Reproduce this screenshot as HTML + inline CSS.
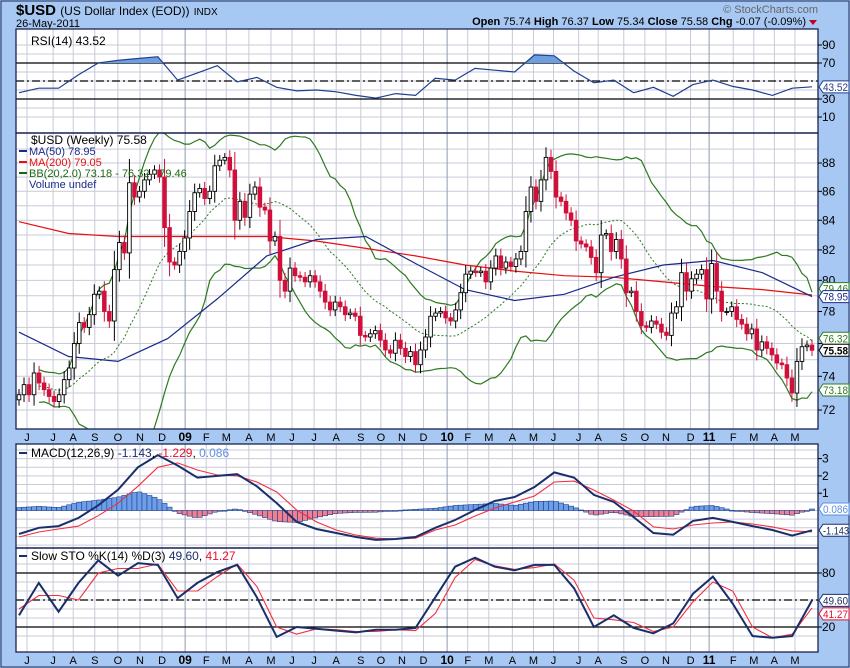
<!DOCTYPE html>
<html><head><meta charset="utf-8"><style>
html,body{margin:0;padding:0;background:#a7c8f2;}
svg{display:block;font-family:"Liberation Sans",sans-serif;}
</style></head><body>
<svg id="chart" width="850" height="668" viewBox="0 0 850 668" xmlns="http://www.w3.org/2000/svg">
<rect x="0" y="0" width="850" height="668" fill="#a7c8f2"/>
<rect x="1" y="1" width="848" height="666" fill="none" stroke="#1a2a5a" stroke-width="1"/>
<text x="16" y="15" font-size="15" font-weight="bold" fill="#000">$USD <tspan font-size="12" font-weight="normal">(US Dollar Index (EOD))</tspan> <tspan font-size="10" font-weight="normal">INDX</tspan></text>
<text x="16" y="27" font-size="11" fill="#000">26-May-2011</text>
<text x="818" y="13" font-size="11" fill="#666" text-anchor="end">© StockCharts.com</text>
<text x="806" y="25" font-size="11" fill="#000" text-anchor="end"><tspan font-weight="bold">Open</tspan> 75.74 <tspan font-weight="bold">High</tspan> 76.37 <tspan font-weight="bold">Low</tspan> 75.34 <tspan font-weight="bold">Close</tspan> 75.58 <tspan font-weight="bold">Chg</tspan> -0.07 (-0.09%)</text>
<polygon points="809,20 817,20 813,25" fill="#c00020"/>
<g id="layer"></g>
</svg>
<script>
// ---- data ----
const closes = [72.9,73.5,72.9,74.2,73.6,73.2,72.8,72.5,72.9,73.8,74.5,76.0,77.3,77.0,77.8,79.1,79.3,78.0,77.4,80.7,82.5,81.8,86.6,85.6,86.0,86.8,87.2,87.5,87.0,83.5,
81.2,81.0,81.9,82.8,84.6,85.9,86.2,85.5,86.0,87.8,88.2,
88.4,87.5,84.0,85.3,84.2,85.8,86.3,84.9,84.7,82.6,82.9,80.0,79.3,80.8,80.3,80.2,79.9,80.3,79.9,79.3,78.6,78.1,78.6,78.3,77.8,77.9,77.7,76.5,76.4,76.6,76.8,76.2,75.6,75.4,76.2,75.7,75.2,75.5,74.7,75.6,76.4,
77.7,77.9,78.0,77.6,77.4,78.1,79.2,80.4,80.6,80.5,80.6,79.9,80.8,81.6,80.8,81.2,80.9,81.4,81.9,84.6,86.3,85.3,86.8,88.4,87.4,85.6,85.3,84.5,84.0,82.6,82.4,82.2,81.5,80.5,83.0,83.1,81.9,82.7,81.4,79.2,
79.3,78.0,77.1,77.0,77.4,77.2,76.7,76.5,77.9,78.3,80.5,79.3,80.1,80.4,80.7,78.8,81.1,79.3,78.0,78.0,78.3,77.5,77.2,76.6,76.9,75.6,76.1,75.7,75.3,74.8,74.7,73.9,73.0,74.9,75.8,75.9,75.58];
const firstOpen = 72.6;
const ma50 = [76.7,75.2,74.9,76.3,78.8,81.6,82.7,82.9,81.1,79.4,78.7,79.1,80.2,81.0,81.3,80.5,78.95];
const ma200 = [83.9,83.1,82.9,82.9,82.9,82.9,82.6,82.1,81.6,81.0,80.6,80.3,80.2,79.9,79.6,79.4,79.05];
const rsi = [37,42,42,57,70,73,75,77,51,59,67,49,54,43,39,40,38,34,31,36,34,53,51,64,62,60,79,78,61,48,51,37,43,33,46,51,44,40,34,42,43.52];
const macdLine = [-1.36,-1.0,-0.9,-0.43,0.3,1.2,2.5,3.2,2.6,1.9,2.0,2.1,1.4,0.43,-0.66,-1.07,-1.3,-1.53,-1.7,-1.65,-1.53,-1.0,-0.55,0.03,0.55,0.78,1.36,2.2,1.9,0.9,0.5,-0.38,-1.3,-1.4,-0.6,-0.43,-0.66,-0.9,-1.13,-1.45,-1.143];
const signalLine = [-1.53,-1.24,-1.07,-0.9,-0.3,0.43,1.4,2.5,2.75,2.34,2.05,2.0,1.65,1.07,0.03,-0.66,-1.13,-1.42,-1.6,-1.65,-1.6,-1.13,-0.84,-0.32,0.14,0.49,0.84,1.65,1.7,1.18,0.6,-0.03,-0.95,-1.07,-0.84,-0.72,-0.66,-0.78,-0.95,-1.18,-1.229];
const stoK = [33,69,37,69,94,77,91,89,52,69,81,89,53,9,20,18,16,14,17,17,19,53,87,97,87,83,89,89,63,20,33,19,13,24,57,76,46,10,8,10,49.6];
const stoD = [40,55,55,50,80,85,85,90,60,60,76,90,65,20,12,18,17,15,15,17,16,35,75,95,88,84,86,90,72,30,28,25,15,20,48,70,60,20,8,12,41.27];
const months = ["J","J","A","S","O","N","D","09","F","M","A","M","J","J","A","S","O","N","D","10","F","M","A","M","J","J","A","S","O","N","D","11","F","M","A","M"];
const monthWeeks = [1.6,6.8,10.8,15.1,19.7,24.1,28.5,33.1,37.3,41.3,45.8,50.2,54.4,58.8,63.2,68.1,72.1,76.3,80.6,85.3,89.4,93.6,98.3,102.5,106.5,111.5,115.4,120.5,124.7,128.9,133.8,137.5,142.3,146.4,150.5,154.6];
const priceTicks = [72,74,76,78,80,82,84,86,88];
const rsiTicks = [90,70,30,10];
const macdTicks = [3,2,1];
const stoTicks = [80,20];

// ---- geometry ----
const L=16,R=818;
const N=closes.length;
const X0=19,X1=812;
const xW=i=>X0+i*(X1-X0)/(N-1);
const xS=(k,n)=>X0+k*(X1-X0)/(n-1);
const yP=p=>163+Math.log(88/p)*1231;
const yR=v=>126-0.9*v;
const yM=v=>510.5-17.3*v;
const yS=v=>645-0.9*v;
const NS="http://www.w3.org/2000/svg";
const layer=document.getElementById('layer');
function mk(tag,a,parent){const e=document.createElementNS(NS,tag);for(const k in a)e.setAttribute(k,a[k]);(parent||layer).appendChild(e);return e;}
function txt(x,y,s,a,parent){const e=mk('text',Object.assign({x:x,y:y,'font-size':11},a||{}),parent);e.textContent=s;return e;}
function pts(arr,fx,fy){return arr.map((v,i)=>fx(i).toFixed(1)+','+fy(v).toFixed(1)).join(' ');}

const panels=[{n:'rsi',t:29,b:133},{n:'price',t:133,b:429},{n:'macd',t:444,b:548},{n:'sto',t:548,b:652}];
panels.forEach(p=>{
  const r=mk('rect',{x:L,y:p.t,width:R-L,height:p.b-p.t,fill:'#fff'});
  
  
});
function hgrid(y,panel){const l=mk('line',{x1:L,x2:R,y1:y,y2:y,stroke:'#c9c9d9','stroke-width':1});
  
  }
for(let v=10;v<100;v+=10) hgrid(yR(v),'rsi');
for(let p=72;p<=89;p++) hgrid(yP(p),'price');
for(let v=-2;v<=3.5;v+=0.5) if(yM(v)>446&&yM(v)<547) hgrid(yM(v),'macd');
for(let v=10;v<100;v+=10) hgrid(yS(v),'sto');
monthWeeks.forEach((w,i)=>{
  const x=xW(w);const yr=months[i].length>1;
  panels.forEach(p=>{const l=mk('line',{x1:x,x2:x,y1:p.t,y2:p.b,stroke:yr?'#8e9bb0':'#c9c9d9','stroke-width':1});
    
    });
  [441,664].forEach(y=>{const t=txt(x,y,months[i],{'text-anchor':'middle','font-weight':yr?'bold':'normal','font-size':yr?12:11});
    
    });
});
function refLine(y,dash,name){const l=mk('line',{x1:L,x2:R,y1:y,y2:y,stroke:'#000','stroke-width':1.2,'stroke-dasharray':dash||'none'});
  
  }
refLine(yR(70),null,'rsi-70-line');refLine(yR(30),null,'rsi-30-line');refLine(yR(50),'8,3,2,3','rsi-50-line');
refLine(yS(80),null,'sto-80-line');refLine(yS(20),null,'sto-20-line');refLine(yS(50),'8,3,2,3','sto-50-line');

// ---- RSI ----
const defs=mk('defs',{});
const cp=mk('clipPath',{id:'above70'},defs);
mk('rect',{x:L,y:29,width:R-L,height:yR(70)-29},cp);
const rsiFill=mk('polygon',{points:xS(0,rsi.length)+','+yR(70)+' '+pts(rsi,k=>xS(k,rsi.length),yR)+' '+xS(rsi.length-1,rsi.length)+','+yR(70),fill:'#6d9fe0','clip-path':'url(#above70)'});


const rsiL=mk('polyline',{points:pts(rsi,k=>xS(k,rsi.length),yR),fill:'none',stroke:'#1f3f8f','stroke-width':1.2});



// ---- Bollinger ----
const mid=[],up=[],lo=[];
for(let i=0;i<N;i++){const s=closes.slice(Math.max(0,i-19),i+1);const m=s.reduce((a,b)=>a+b,0)/s.length;
  const sd=Math.sqrt(s.reduce((a,b)=>a+(b-m)*(b-m),0)/s.length);mid.push(m);up.push(m+2*sd);lo.push(m-2*sd);}
const bbStart=4;
function series(arr,start){return arr.slice(start).map((v,i)=>xW(i+start).toFixed(1)+','+yP(v).toFixed(1)).join(' ');}
const cpP=mk('clipPath',{id:'pclip'},defs);
mk('rect',{x:L,y:133,width:R-L,height:296},cpP);
const gP=mk('g',{'clip-path':'url(#pclip)'});


const bbU=mk('polyline',{points:series(up,bbStart),fill:'none',stroke:'#2d7a1f','stroke-width':1.2},gP);


const bbL=mk('polyline',{points:series(lo,bbStart),fill:'none',stroke:'#2d7a1f','stroke-width':1.2},gP);


const bbM=mk('polyline',{points:series(mid,bbStart),fill:'none',stroke:'#2d7a1f','stroke-width':1,'stroke-dasharray':'2,2'},gP);


const m200=mk('polyline',{points:pts(ma200,k=>xS(k,ma200.length),yP),fill:'none',stroke:'#e81010','stroke-width':1.2},gP);


const m50=mk('polyline',{points:pts(ma50,k=>xS(k,ma50.length),yP),fill:'none',stroke:'#1a2a8a','stroke-width':1.2},gP);


for(let i=0;i<N;i++){
  const o=i?closes[i-1]:firstOpen,c=closes[i];
  const x=xW(i);const top=Math.max(o,c),bot=Math.min(o,c);const wick=0.25+Math.abs(c-o)*0.3;
  const w=mk('line',{x1:x,x2:x,y1:yP(top+wick),y2:yP(bot-wick),stroke:c<o?'#d0103a':'#000','stroke-width':1},gP);
  
  
  const h=Math.max(1,yP(bot)-yP(top));
  const b=mk('rect',{x:x-1.8,y:yP(top),width:3.6,height:h,fill:c<o?'#d0103a':'#fff',stroke:c<o?'#d0103a':'#000','stroke-width':0.9},gP);
  
  
}
const leg=[['$USD (Weekly) 75.58','#000',null],['MA(50) 78.95','#1a2a8a','#1a2a8a'],['MA(200) 79.05','#e81010','#e81010'],['BB(20,2.0) 73.18 - 76.32 - 79.46','#1a6a10','#1a6a10'],['Volume undef','#1a2a8a',null]];
leg.forEach((l,i)=>{const y=144+i*11;
  const t=txt(i==0?31:29,y,l[0],{fill:l[1],'font-size':i==0?12:11});
  
  
  if(l[2]){const s=mk('line',{x1:19,x2:27,y1:y-4,y2:y-4,stroke:l[2],'stroke-width':2});
    
    }
});
const rl=txt(31,45,'RSI(14) 43.52',{'font-size':12});



// ---- MACD ----
const nm=macdLine.length;
for(let i=0;i<N;i++){
  const f=i*(nm-1)/(N-1);const k=Math.min(nm-2,Math.floor(f));const t=f-k;
  const h=(macdLine[k]+(macdLine[k+1]-macdLine[k])*t)-(signalLine[k]+(signalLine[k+1]-signalLine[k])*t);
  const y0=yM(0),y1=yM(h);
  const b=mk('rect',{x:xW(i)-2.5,y:Math.min(y0,y1),width:5,height:Math.max(0.8,Math.abs(y1-y0)),fill:h>=0?'#6d9fe8':'#f27f90',stroke:'#1f3f8f','stroke-width':0.6});
  
  
}
const sig=mk('polyline',{points:pts(signalLine,k=>xS(k,nm),yM),fill:'none',stroke:'#f03040','stroke-width':1.1});


const mac=mk('polyline',{points:pts(macdLine,k=>xS(k,nm),yM),fill:'none',stroke:'#1a2f6a','stroke-width':2});


const ml=txt(31,457,'',{'font-size':12});
ml.innerHTML='MACD(12,26,9) <tspan fill="#1a2f6a">-1.143</tspan>, <tspan fill="#e81030">-1.229</tspan>, <tspan fill="#5d8fe0">0.086</tspan>';



// ---- STO ----
const sd=mk('polyline',{points:pts(stoD,k=>xS(k,stoD.length),yS),fill:'none',stroke:'#f03040','stroke-width':1.1});


const sk=mk('polyline',{points:pts(stoK,k=>xS(k,stoK.length),yS),fill:'none',stroke:'#1a2f6a','stroke-width':2});


const sl=txt(31,560,'',{'font-size':12});
sl.innerHTML='Slow STO %K(14) %D(3) <tspan fill="#1a2f6a">49.60</tspan>, <tspan fill="#e81030">41.27</tspan>';


[[457,'#1a2f6a'],[560,'#1a2f6a']].forEach(a=>{const s=mk('line',{x1:19,x2:27,y1:a[0]-4,y2:a[0]-4,stroke:a[1],'stroke-width':2});
  
  });

panels.forEach(p=>{const r=mk('rect',{x:L,y:p.t,width:R-L,height:p.b-p.t,fill:'none',stroke:'#1a2350','stroke-width':1.3});
  
  });

function ytick(y,s,name){const l=mk('line',{x1:R,x2:R+4,y1:y,y2:y,stroke:'#000'});
  
  
  const t=txt(R+4,y+4,s,{'font-size':12});
  
  }
rsiTicks.forEach(v=>ytick(yR(v),String(v),'rsi'));
priceTicks.forEach(v=>ytick(yP(v),String(v),'price'));
macdTicks.forEach(v=>ytick(yM(v),String(v),'macd'));
stoTicks.forEach(v=>ytick(yS(v),String(v),'sto'));
function tag(y,s,col,bold,name){
  const p=mk('polygon',{points:`${R+1},${y} ${R+5},${y-6} ${R+31},${y-6} ${R+31},${y+6} ${R+5},${y+6}`,fill:'#fff',stroke:col,'stroke-width':1});
  
  
  const t=txt(R+5,y+4,s,{fill:bold?'#000':col,'font-weight':bold?'bold':'normal','font-size':11,'textLength':s.length>5?26:25,'lengthAdjust':'spacingAndGlyphs'});
  
  }
tag(yR(43.52),'43.52','#1f3f8f',false,'rsi-value');
tag(yP(79.46),'79.46','#2d7a1f',false,'bb-upper-value');
tag(yP(78.95),'78.95','#1a2a8a',false,'ma50-value');
tag(yP(76.32),'76.32','#2d7a1f',false,'bb-middle-value');
tag(yP(75.58),'75.58','#000',true,'close-value');
tag(yP(73.18),'73.18','#2d7a1f',false,'bb-lower-value');
tag(yM(0.086),'0.086','#5d8fe0',false,'macd-hist-value');
tag(yM(-1.143),'-1.143','#1a2f6a',false,'macd-value');
tag(yS(49.6),'49.60','#1a2f6a',false,'sto-k-value');
tag(yS(41.27)+6,'41.27','#e81030',false,'sto-d-value');
</script>
</body></html>
